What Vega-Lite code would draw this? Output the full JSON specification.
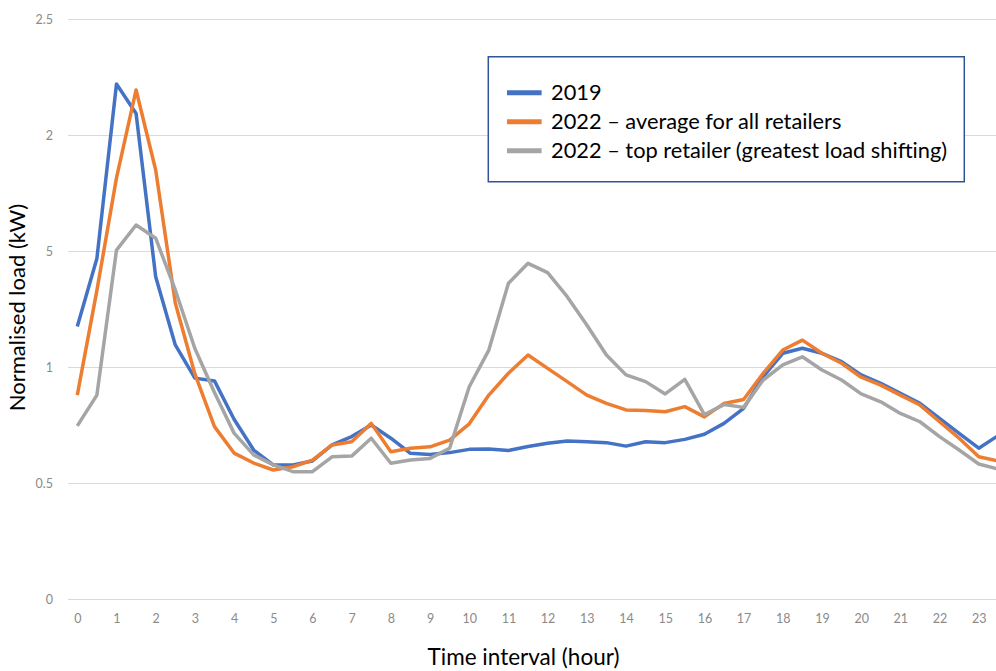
{
  "$schema": "https://vega.github.io/schema/vega-lite/v6.json",
  "autosize": {"type": "none"},
  "padding": {"left": 67.5, "top": 19, "right": 0, "bottom": 72},
  "width": 928.5,
  "height": 580,
  "config": {
    "font": "Lato",
    "view": {"stroke": null},
    "axis": {"labelFont": "Lato", "titleFont": "Lato"}
  },
  "datasets": {
    "loads": [
      {"hour": 0, "series": "2019", "load": 1.175},
      {"hour": 0.5, "series": "2019", "load": 1.468},
      {"hour": 1, "series": "2019", "load": 2.22},
      {"hour": 1.5, "series": "2019", "load": 2.093},
      {"hour": 2, "series": "2019", "load": 1.389},
      {"hour": 2.5, "series": "2019", "load": 1.095},
      {"hour": 3, "series": "2019", "load": 0.952},
      {"hour": 3.5, "series": "2019", "load": 0.94},
      {"hour": 4, "series": "2019", "load": 0.775},
      {"hour": 4.5, "series": "2019", "load": 0.642},
      {"hour": 5, "series": "2019", "load": 0.578},
      {"hour": 5.5, "series": "2019", "load": 0.578},
      {"hour": 6, "series": "2019", "load": 0.595},
      {"hour": 6.5, "series": "2019", "load": 0.664},
      {"hour": 7, "series": "2019", "load": 0.7},
      {"hour": 7.5, "series": "2019", "load": 0.75},
      {"hour": 8, "series": "2019", "load": 0.693},
      {"hour": 8.5, "series": "2019", "load": 0.628},
      {"hour": 9, "series": "2019", "load": 0.623},
      {"hour": 9.5, "series": "2019", "load": 0.631},
      {"hour": 10, "series": "2019", "load": 0.645},
      {"hour": 10.5, "series": "2019", "load": 0.647},
      {"hour": 11, "series": "2019", "load": 0.64},
      {"hour": 11.5, "series": "2019", "load": 0.657},
      {"hour": 12, "series": "2019", "load": 0.671},
      {"hour": 12.5, "series": "2019", "load": 0.681},
      {"hour": 13, "series": "2019", "load": 0.678},
      {"hour": 13.5, "series": "2019", "load": 0.674},
      {"hour": 14, "series": "2019", "load": 0.659},
      {"hour": 14.5, "series": "2019", "load": 0.678},
      {"hour": 15, "series": "2019", "load": 0.674},
      {"hour": 15.5, "series": "2019", "load": 0.688},
      {"hour": 16, "series": "2019", "load": 0.71},
      {"hour": 16.5, "series": "2019", "load": 0.757},
      {"hour": 17, "series": "2019", "load": 0.822},
      {"hour": 17.5, "series": "2019", "load": 0.958},
      {"hour": 18, "series": "2019", "load": 1.059},
      {"hour": 18.5, "series": "2019", "load": 1.081},
      {"hour": 19, "series": "2019", "load": 1.059},
      {"hour": 19.5, "series": "2019", "load": 1.023},
      {"hour": 20, "series": "2019", "load": 0.966},
      {"hour": 20.5, "series": "2019", "load": 0.93},
      {"hour": 21, "series": "2019", "load": 0.887},
      {"hour": 21.5, "series": "2019", "load": 0.843},
      {"hour": 22, "series": "2019", "load": 0.779},
      {"hour": 22.5, "series": "2019", "load": 0.714},
      {"hour": 23, "series": "2019", "load": 0.65},
      {"hour": 23.5, "series": "2019", "load": 0.705},
      {"hour": 0, "series": "2022 – average for all retailers", "load": 0.879},
      {"hour": 0.5, "series": "2022 – average for all retailers", "load": 1.33},
      {"hour": 1, "series": "2022 – average for all retailers", "load": 1.815},
      {"hour": 1.5, "series": "2022 – average for all retailers", "load": 2.194},
      {"hour": 2, "series": "2022 – average for all retailers", "load": 1.849},
      {"hour": 2.5, "series": "2022 – average for all retailers", "load": 1.276},
      {"hour": 3, "series": "2022 – average for all retailers", "load": 0.97},
      {"hour": 3.5, "series": "2022 – average for all retailers", "load": 0.743},
      {"hour": 4, "series": "2022 – average for all retailers", "load": 0.629},
      {"hour": 4.5, "series": "2022 – average for all retailers", "load": 0.586},
      {"hour": 5, "series": "2022 – average for all retailers", "load": 0.556},
      {"hour": 5.5, "series": "2022 – average for all retailers", "load": 0.57},
      {"hour": 6, "series": "2022 – average for all retailers", "load": 0.599},
      {"hour": 6.5, "series": "2022 – average for all retailers", "load": 0.664},
      {"hour": 7, "series": "2022 – average for all retailers", "load": 0.678},
      {"hour": 7.5, "series": "2022 – average for all retailers", "load": 0.757},
      {"hour": 8, "series": "2022 – average for all retailers", "load": 0.635},
      {"hour": 8.5, "series": "2022 – average for all retailers", "load": 0.65},
      {"hour": 9, "series": "2022 – average for all retailers", "load": 0.656},
      {"hour": 9.5, "series": "2022 – average for all retailers", "load": 0.685},
      {"hour": 10, "series": "2022 – average for all retailers", "load": 0.755},
      {"hour": 10.5, "series": "2022 – average for all retailers", "load": 0.879},
      {"hour": 11, "series": "2022 – average for all retailers", "load": 0.973},
      {"hour": 11.5, "series": "2022 – average for all retailers", "load": 1.052},
      {"hour": 12, "series": "2022 – average for all retailers", "load": 0.994},
      {"hour": 12.5, "series": "2022 – average for all retailers", "load": 0.937},
      {"hour": 13, "series": "2022 – average for all retailers", "load": 0.879},
      {"hour": 13.5, "series": "2022 – average for all retailers", "load": 0.843},
      {"hour": 14, "series": "2022 – average for all retailers", "load": 0.815},
      {"hour": 14.5, "series": "2022 – average for all retailers", "load": 0.812},
      {"hour": 15, "series": "2022 – average for all retailers", "load": 0.807},
      {"hour": 15.5, "series": "2022 – average for all retailers", "load": 0.829},
      {"hour": 16, "series": "2022 – average for all retailers", "load": 0.785},
      {"hour": 16.5, "series": "2022 – average for all retailers", "load": 0.843},
      {"hour": 17, "series": "2022 – average for all retailers", "load": 0.86},
      {"hour": 17.5, "series": "2022 – average for all retailers", "load": 0.973},
      {"hour": 18, "series": "2022 – average for all retailers", "load": 1.073},
      {"hour": 18.5, "series": "2022 – average for all retailers", "load": 1.116},
      {"hour": 19, "series": "2022 – average for all retailers", "load": 1.059},
      {"hour": 19.5, "series": "2022 – average for all retailers", "load": 1.016},
      {"hour": 20, "series": "2022 – average for all retailers", "load": 0.956},
      {"hour": 20.5, "series": "2022 – average for all retailers", "load": 0.922},
      {"hour": 21, "series": "2022 – average for all retailers", "load": 0.879},
      {"hour": 21.5, "series": "2022 – average for all retailers", "load": 0.836},
      {"hour": 22, "series": "2022 – average for all retailers", "load": 0.764},
      {"hour": 22.5, "series": "2022 – average for all retailers", "load": 0.693},
      {"hour": 23, "series": "2022 – average for all retailers", "load": 0.613},
      {"hour": 23.5, "series": "2022 – average for all retailers", "load": 0.595},
      {"hour": 0, "series": "2022 – top retailer (greatest load shifting)", "load": 0.746},
      {"hour": 0.5, "series": "2022 – top retailer (greatest load shifting)", "load": 0.879},
      {"hour": 1, "series": "2022 – top retailer (greatest load shifting)", "load": 1.504},
      {"hour": 1.5, "series": "2022 – top retailer (greatest load shifting)", "load": 1.612},
      {"hour": 2, "series": "2022 – top retailer (greatest load shifting)", "load": 1.555},
      {"hour": 2.5, "series": "2022 – top retailer (greatest load shifting)", "load": 1.332},
      {"hour": 3, "series": "2022 – top retailer (greatest load shifting)", "load": 1.08},
      {"hour": 3.5, "series": "2022 – top retailer (greatest load shifting)", "load": 0.89},
      {"hour": 4, "series": "2022 – top retailer (greatest load shifting)", "load": 0.715},
      {"hour": 4.5, "series": "2022 – top retailer (greatest load shifting)", "load": 0.621},
      {"hour": 5, "series": "2022 – top retailer (greatest load shifting)", "load": 0.578},
      {"hour": 5.5, "series": "2022 – top retailer (greatest load shifting)", "load": 0.549},
      {"hour": 6, "series": "2022 – top retailer (greatest load shifting)", "load": 0.549},
      {"hour": 6.5, "series": "2022 – top retailer (greatest load shifting)", "load": 0.613},
      {"hour": 7, "series": "2022 – top retailer (greatest load shifting)", "load": 0.616},
      {"hour": 7.5, "series": "2022 – top retailer (greatest load shifting)", "load": 0.693},
      {"hour": 8, "series": "2022 – top retailer (greatest load shifting)", "load": 0.585},
      {"hour": 8.5, "series": "2022 – top retailer (greatest load shifting)", "load": 0.599},
      {"hour": 9, "series": "2022 – top retailer (greatest load shifting)", "load": 0.606},
      {"hour": 9.5, "series": "2022 – top retailer (greatest load shifting)", "load": 0.65},
      {"hour": 10, "series": "2022 – top retailer (greatest load shifting)", "load": 0.915},
      {"hour": 10.5, "series": "2022 – top retailer (greatest load shifting)", "load": 1.073},
      {"hour": 11, "series": "2022 – top retailer (greatest load shifting)", "load": 1.361},
      {"hour": 11.5, "series": "2022 – top retailer (greatest load shifting)", "load": 1.447},
      {"hour": 12, "series": "2022 – top retailer (greatest load shifting)", "load": 1.407},
      {"hour": 12.5, "series": "2022 – top retailer (greatest load shifting)", "load": 1.303},
      {"hour": 13, "series": "2022 – top retailer (greatest load shifting)", "load": 1.181},
      {"hour": 13.5, "series": "2022 – top retailer (greatest load shifting)", "load": 1.052},
      {"hour": 14, "series": "2022 – top retailer (greatest load shifting)", "load": 0.966},
      {"hour": 14.5, "series": "2022 – top retailer (greatest load shifting)", "load": 0.937},
      {"hour": 15, "series": "2022 – top retailer (greatest load shifting)", "load": 0.884},
      {"hour": 15.5, "series": "2022 – top retailer (greatest load shifting)", "load": 0.947},
      {"hour": 16, "series": "2022 – top retailer (greatest load shifting)", "load": 0.795},
      {"hour": 16.5, "series": "2022 – top retailer (greatest load shifting)", "load": 0.838},
      {"hour": 17, "series": "2022 – top retailer (greatest load shifting)", "load": 0.826},
      {"hour": 17.5, "series": "2022 – top retailer (greatest load shifting)", "load": 0.944},
      {"hour": 18, "series": "2022 – top retailer (greatest load shifting)", "load": 1.009},
      {"hour": 18.5, "series": "2022 – top retailer (greatest load shifting)", "load": 1.044},
      {"hour": 19, "series": "2022 – top retailer (greatest load shifting)", "load": 0.987},
      {"hour": 19.5, "series": "2022 – top retailer (greatest load shifting)", "load": 0.944},
      {"hour": 20, "series": "2022 – top retailer (greatest load shifting)", "load": 0.884},
      {"hour": 20.5, "series": "2022 – top retailer (greatest load shifting)", "load": 0.85},
      {"hour": 21, "series": "2022 – top retailer (greatest load shifting)", "load": 0.8},
      {"hour": 21.5, "series": "2022 – top retailer (greatest load shifting)", "load": 0.764},
      {"hour": 22, "series": "2022 – top retailer (greatest load shifting)", "load": 0.7},
      {"hour": 22.5, "series": "2022 – top retailer (greatest load shifting)", "load": 0.642},
      {"hour": 23, "series": "2022 – top retailer (greatest load shifting)", "load": 0.582},
      {"hour": 23.5, "series": "2022 – top retailer (greatest load shifting)", "load": 0.56}
    ]
  },
  "data": {"name": "loads"},
  "mark": {"type": "line", "strokeWidth": 3.5, "strokeJoin": "round", "clip": true},
  "encoding": {
    "x": {
      "field": "hour",
      "type": "quantitative",
      "scale": {"domain": [-0.25, 23.44], "nice": false, "zero": false},
      "axis": {
        "values": [0,1,2,3,4,5,6,7,8,9,10,11,12,13,14,15,16,17,18,19,20,21,22,23],
        "format": "d",
        "grid": false,
        "domain": false,
        "ticks": false,
        "labelPadding": 13,
        "labelFontSize": 12.5,
        "labelColor": "#8a8a8a",
        "title": "Time interval (hour)",
        "titleFontSize": 22.5,
        "titleFontWeight": "normal",
        "titleColor": "#000000",
        "titleX": 455.5,
        "titleY": 58,
        "titleBaseline": "middle"
      }
    },
    "y": {
      "field": "load",
      "type": "quantitative",
      "scale": {"domain": [0, 2.5], "nice": false},
      "axis": {
        "values": [0, 0.5, 1, 1.5, 2, 2.5],
        "labelExpr": "datum.value == 1.5 ? '5' : format(datum.value, '~g')",
        "grid": true,
        "gridColor": "#d9d9d9",
        "gridWidth": 1,
        "domain": false,
        "ticks": false,
        "labelPadding": 15,
        "labelFontSize": 12.5,
        "labelColor": "#8a8a8a",
        "title": "Normalised load (kW)",
        "titleFontSize": 22,
        "titleFontWeight": "normal",
        "titleColor": "#000000",
        "titleX": -50.5,
        "titleY": 288,
        "titleBaseline": "middle"
      }
    },
    "color": {
      "field": "series",
      "type": "nominal",
      "scale": {
        "domain": ["2019", "2022 – average for all retailers", "2022 – top retailer (greatest load shifting)"],
        "range": ["#4472C4", "#ED7D31", "#A5A5A5"]
      },
      "legend": {
        "title": " ",
        "titleFontSize": 1,
        "titlePadding": 4.5,
        "orient": "none",
        "legendX": 420.8,
        "legendY": 37.7,
        "direction": "vertical",
        "symbolType": "stroke",
        "symbolSize": 1200,
        "symbolStrokeWidth": 5,
        "labelFontSize": 21.8,
        "labelFont": "Lato",
        "labelColor": "#000000",
        "labelLimit": 700,
        "labelOffset": 6.7,
        "padding": 16,
        "clipHeight": 29,
        "rowPadding": 0,
        "strokeColor": "#2F5597",
        "fillColor": "#ffffff",
        "encode": {"legend": {"update": {"strokeWidth": {"value": 1.5}}}}
      }
    }
  }
}
